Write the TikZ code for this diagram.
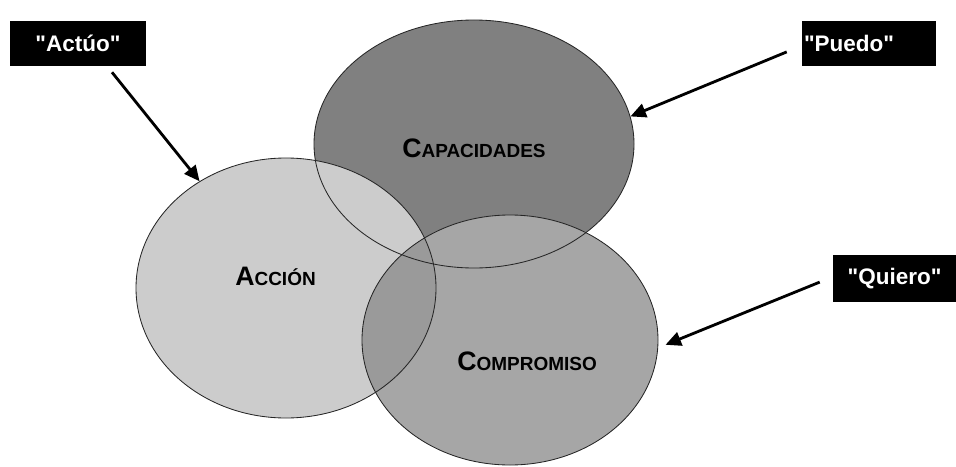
\documentclass[tikz,border=0pt]{standalone}
\usepackage{fontspec}
\setmainfont{Liberation Sans}
\usetikzlibrary{shapes.geometric,arrows.meta}
\definecolor{capgris}{HTML}{808080}
\definecolor{accgris}{HTML}{CCCCCC}
\definecolor{comgris}{HTML}{A6A6A6}
\definecolor{mixgris}{HTML}{9A9A9A}
\def\versal#1#2{{\fontsize{19}{19}\selectfont #1}{\fontsize{13.5}{13.5}\selectfont #2}}
\def\cita#1{\textquotedbl#1\textquotedbl}
\tikzset{
  aro/.style={draw=black!85, line width=0.6pt, shape=ellipse, inner sep=0pt},
  cartel/.style={fill=black, text=white, font=\bfseries\fontsize{16}{18}\selectfont, minimum height=1.125cm, inner sep=0pt},
  flecha/.style={line width=2pt, -{Triangle[length=11pt,width=10pt]}},
  rotulo/.style={anchor=base west, inner sep=0pt, font=\bfseries}
}

\begin{document}
\begin{tikzpicture}
\useasboundingbox (0,0) rectangle (23.9,11.65);
\fill[capgris] (11.85,8.05) ellipse (4 and 3.1);
\fill[accgris] (7.15,4.45) ellipse (3.75 and 3.25);
\fill[comgris] (12.75,3.15) ellipse (3.7 and 3.125);
\begin{scope}
\clip (7.15,4.45) ellipse (3.75 and 3.25);
\fill[mixgris] (12.75,3.15) ellipse (3.7 and 3.125);
\end{scope}
\node[aro, minimum width=8cm, minimum height=6.2cm] (capacidades) at (11.85,8.05) {};
\node[aro, minimum width=7.5cm, minimum height=6.5cm] (accion) at (7.15,4.45) {};
\node[aro, minimum width=7.4cm, minimum height=6.25cm] (compromiso) at (12.75,3.15) {};
\node[rotulo] (capTxt) at (10.05,7.725) {\versal{C}{APACIDADES}};
\node[rotulo] (accTxt) at (5.875,4.525) {\versal{A}{CCIÓN}};
\node[rotulo] (comTxt) at (11.425,2.4) {\versal{C}{OMPROMISO}};
\node[cartel, minimum width=3.4cm] (actuo) at (1.95,10.5625) {\cita{Actúo}};
\node[cartel, text width=3.25cm, inner xsep=0.05cm, align=left] (puedo) at (21.725,10.5625) {\cita{Puedo}};
\node[cartel, minimum width=3.075cm, minimum height=1.175cm] (quiero) at (22.3625,4.6875) {\cita{Quiero}};
\draw[flecha] ([xshift=0.85cm,yshift=-0.15cm]actuo.south) -- (accion.129);
\draw[flecha] ([xshift=-0.375cm,yshift=-0.21cm]puedo.west) -- (capacidades.10);
\draw[flecha, shorten >=0.2cm] ([xshift=-0.325cm,yshift=-0.09cm]quiero.west) -- (compromiso.-3);
\end{tikzpicture}
\end{document}
